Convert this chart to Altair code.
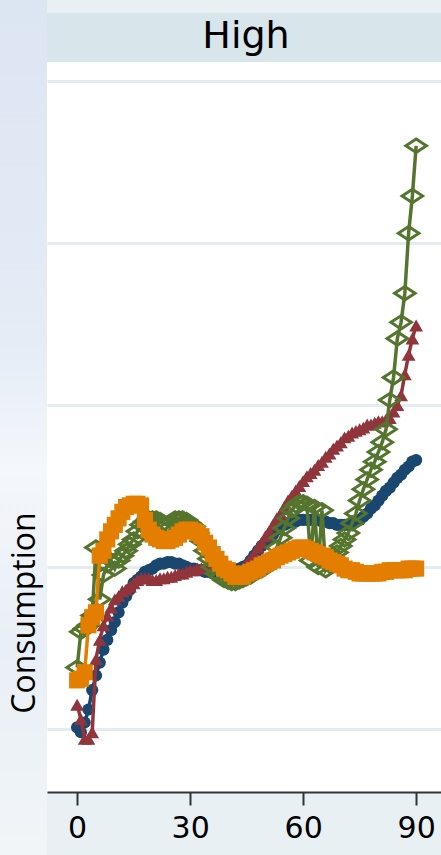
import altair as alt
import pandas as pd

# ---- data (y in arbitrary "gridline" units 1..5) ----
days = list(range(0, 91))

blue = [1.01, 0.98, 1.04, 1.12, 1.24, 1.33, 1.41, 1.49, 1.55, 1.61,
        1.66, 1.72, 1.78, 1.82, 1.86, 1.90, 1.92, 1.94, 1.97, 1.98,
        1.99, 2.01, 2.02, 2.02, 2.03, 2.03, 2.02, 2.02, 2.01, 2.00,
        1.99, 1.99, 1.98, 1.98, 1.97, 1.97, 1.96, 1.96, 1.96, 1.96,
        1.96, 1.97, 1.98, 1.99, 2.00, 2.01, 2.04, 2.07, 2.10, 2.13,
        2.15, 2.18, 2.20, 2.23, 2.25, 2.26, 2.27, 2.28, 2.28, 2.29,
        2.29, 2.29, 2.29, 2.29, 2.29, 2.28, 2.28, 2.27, 2.27, 2.26,
        2.26, 2.26, 2.26, 2.27, 2.28, 2.29, 2.31, 2.33, 2.36, 2.38,
        2.41, 2.44, 2.47, 2.49, 2.52, 2.55, 2.57, 2.60, 2.62, 2.65,
        2.66]

red = [1.15, 1.06, 0.94, 0.94, 0.98, 1.43, 1.55, 1.64, 1.70, 1.75,
       1.80, 1.82, 1.85, 1.86, 1.88, 1.90, 1.92, 1.93, 1.93, 1.93,
       1.92, 1.92, 1.93, 1.93, 1.94, 1.94, 1.95, 1.96, 1.96, 1.97,
       1.98, 1.98, 1.99, 1.99, 2.00, 2.01, 2.01, 2.01, 2.00, 1.99,
       1.99, 1.98, 1.98, 1.98, 1.99, 2.02, 2.05, 2.08, 2.12, 2.15,
       2.19, 2.22, 2.26, 2.30, 2.33, 2.37, 2.41, 2.44, 2.47, 2.50,
       2.53, 2.56, 2.58, 2.60, 2.63, 2.65, 2.68, 2.70, 2.73, 2.75,
       2.77, 2.80, 2.81, 2.83, 2.84, 2.85, 2.86, 2.88, 2.88, 2.89,
       2.90, 2.90, 2.91, 2.92, 2.96, 3.00, 3.06, 3.19, 3.31, 3.41,
       3.49]

green = [1.38, 1.60, 1.62, 1.64, 1.70, 2.12, 1.80, 1.95, 2.01, 2.04,
         1.99, 2.04, 2.07, 2.10, 2.14, 2.17, 2.22, 2.26, 2.28, 2.30,
         2.30, 2.30, 2.29, 2.27, 2.26, 2.28, 2.30, 2.30, 2.30, 2.29,
         2.27, 2.25, 2.21, 2.16, 2.10, 2.05, 2.00, 1.96, 1.94, 1.92,
         1.91, 1.90, 1.90, 1.91, 1.92, 1.93, 1.94, 1.96, 1.97, 1.98,
         2.00, 2.02, 2.06, 2.12, 2.18, 2.24, 2.30, 2.35, 2.38, 2.40,
         2.40, 2.39, 2.04, 2.37, 2.00, 2.35, 1.98, 2.01, 2.06, 2.09,
         2.13, 2.17, 2.21, 2.27, 2.33, 2.41, 2.48, 2.54, 2.60, 2.65,
         2.71, 2.77, 2.85, 3.03, 3.17, 3.41, 3.51, 3.69, 4.06, 4.29,
         4.60]

orange = [1.30, 1.31, 1.35, 1.64, 1.69, 1.72, 2.07, 2.10, 2.17, 2.22,
          2.26, 2.30, 2.34, 2.37, 2.38, 2.39, 2.39, 2.38, 2.29, 2.23,
          2.20, 2.18, 2.17, 2.16, 2.16, 2.17, 2.18, 2.20, 2.22, 2.23,
          2.23, 2.22, 2.21, 2.19, 2.15, 2.12, 2.08, 2.05, 2.02, 1.99,
          1.98, 1.96, 1.94, 1.94, 1.94, 1.96, 1.97, 1.98, 1.99, 2.01,
          2.02, 2.03, 2.04, 2.06, 2.07, 2.08, 2.09, 2.10, 2.11, 2.12,
          2.12, 2.11, 2.10, 2.09, 2.08, 2.07, 2.06, 2.04, 2.03, 2.02,
          2.01, 1.99, 1.98, 1.98, 1.97, 1.96, 1.96, 1.96, 1.96, 1.96,
          1.96, 1.97, 1.97, 1.98, 1.98, 1.98, 1.98, 1.98, 1.99, 1.99,
          1.99]

series_names = ["s1", "s2", "s3", "s4"]
series_values = [blue, red, green, orange]
series_colors = ["#1a476f", "#90353b", "#55752f", "#e37e00"]

x_ticks = [0, 30, 60, 90]
y_grid = [1, 2, 3, 4, 5]
panel_title = "High"
y_title = "Consumption"

rows = []
for name, vals in zip(series_names, series_values):
    for d, v in zip(days, vals):
        rows.append({"day": d, "value": v, "series": name})
df = pd.DataFrame(rows)

W, H = 394, 730

x_scale = alt.Scale(domain=[-8, 96.6], nice=False, zero=False)
y_scale = alt.Scale(domain=[0.611, 5.117], nice=False, zero=False)

x_axis = alt.Axis(values=x_ticks, grid=False, title=None,
                  domainColor="#333333", domainWidth=2,
                  tickColor="#333333", tickWidth=2, tickSize=13,
                  labelFont="DejaVu Sans", labelFontSize=30, labelFontWeight=500,
                  labelColor="#000000", labelPadding=8,
                  labelOverlap=False, labelBound=False, labelFlush=False)
y_axis = alt.Axis(values=y_grid, grid=True, gridColor="#e4ecef", gridWidth=3,
                  labels=False, ticks=False, domain=False, title=None)

X = alt.X("day:Q", scale=x_scale, axis=x_axis)
Y = alt.Y("value:Q", scale=y_scale, axis=y_axis)

one = pd.DataFrame({"t": [panel_title]})
one_y = pd.DataFrame({"t": [y_title]})

left_strip = alt.Chart(one).mark_rect(
    fill=alt.Gradient(
        gradient="linear", x1=0, x2=0, y1=0, y2=1,
        stops=[alt.GradientStop(color="#dce5f2", offset=0),
               alt.GradientStop(color="#e5ecf6", offset=0.4),
               alt.GradientStop(color="#f4f7fb", offset=0.55),
               alt.GradientStop(color="#e9eff6", offset=0.75),
               alt.GradientStop(color="#f1f5f8", offset=1)]),
).encode(x=alt.value(-47), x2=alt.value(0), y=alt.value(-62), y2=alt.value(H + 63))

header = alt.Chart(one).mark_rect(color="#d8e5eb").encode(
    x=alt.value(0), x2=alt.value(W), y=alt.value(-49), y2=alt.value(0))

title_txt = alt.Chart(one).mark_text(
    font="DejaVu Sans", fontSize=38, color="#000000", baseline="alphabetic", align="center"
).encode(text="t:N", x=alt.value(199), y=alt.value(-14))

ytitle_txt = alt.Chart(one_y).mark_text(
    font="Open Sans", fontSize=32, color="#000000", baseline="middle", align="center", angle=270
).encode(text="t:N", x=alt.value(-22), y=alt.value(551))

diamond = "M-1,0L0,-0.65L1,0L0,0.65Z"
shapes = ["circle", "triangle-up", diamond, "square"]
sizes = [150, 190, 420, 260]
filled = [True, True, False, True]

layers = [left_strip, header]
base = alt.Chart(df)
for name, color, shp, sz, fl in zip(series_names, series_colors, shapes, sizes, filled):
    sub = base.transform_filter(alt.datum.series == name)
    line = sub.mark_line(color=color, strokeWidth=3.5).encode(x=X, y=Y)
    if fl:
        pts = sub.mark_point(shape=shp, size=sz, filled=True, color=color, opacity=1).encode(x=X, y=Y)
    else:
        pts = sub.mark_point(shape=shp, size=sz, filled=False, color=color,
                             strokeWidth=3, opacity=1).encode(x=X, y=Y)
    layers += [line, pts]
layers += [title_txt, ytitle_txt]

chart = alt.layer(*layers).properties(
    width=W, height=H,
    autosize=alt.AutoSizeParams(type="none"),
    padding={"left": 47, "top": 62, "right": 0, "bottom": 63},
    background="#e8f0f3",
).configure_view(fill="white", stroke=None)

chart.save("out.html", embed_options={"renderer": "svg", "actions": False})
